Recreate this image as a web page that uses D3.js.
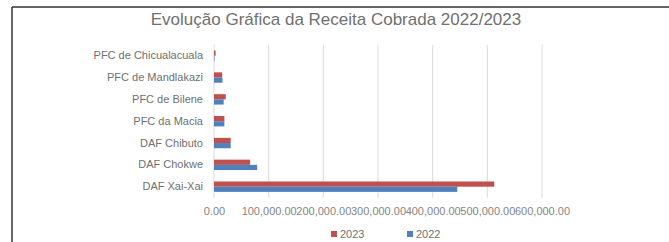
<html>
<head>
<meta charset="utf-8">
<script src="https://cdn.jsdelivr.net/npm/d3@7"></script>
<style>
body, html {
  margin: 0;
  padding: 0;
  background: white;
  overflow: hidden;
}
text {
  font-family: "Liberation Sans", Arial, sans-serif;
}
</style>
</head>
<body>
<div id="chart"></div>
<script type="text/javascript">

// data (top to bottom)
var categories = ["PFC de Chicualacuala", "PFC de Mandlakazi", "PFC de Bilene", "PFC da Macia",
                  "DAF Chibuto", "DAF Chokwe", "DAF Xai-Xai"]
var series = ["2023", "2022"]
var values2023 = [3000, 15000, 21500, 19000, 30500, 66000, 512700]
var values2022 = [1000, 15500, 17700, 19000, 30500, 79000, 445000]
var xTicks = [0, 100000, 200000, 300000, 400000, 500000, 600000]
var title = "Evolução Gráfica da Receita Cobrada 2022/2023"

var colors = {"2023": "#c0504d", "2022": "#4f81bd"}

var W = 669, H = 242

var svg = d3.select("#chart").append("svg")
  .attr("width", W)
  .attr("height", H)

// frame of the chart box (cropped on right and bottom)
svg.append("line").attr("x1", 12).attr("x2", W).attr("y1", 7).attr("y2", 7)
  .style("stroke", "#333").style("stroke-width", 1.5)
svg.append("line").attr("x1", 12).attr("x2", 12).attr("y1", 7).attr("y2", H)
  .style("stroke", "#333").style("stroke-width", 1.5)

svg.append("text")
  .attr("x", 336)
  .attr("y", 25)
  .attr("text-anchor", "middle")
  .style("font-size", "17px")
  .style("fill", "#707070")
  .text(title)

var x = d3.scaleLinear().domain([0, 600000]).range([214, 542])
var y = d3.scaleBand().domain(categories).range([44.8, 197.6])
var barH = 5.2

// gridlines
svg.append("g").selectAll("line")
  .data(xTicks)
  .enter().append("line")
    .attr("x1", function(d){ return x(d) })
    .attr("x2", function(d){ return x(d) })
    .attr("y1", 44.8)
    .attr("y2", 197.6)
    .style("stroke", "#d9d9d9")
    .style("stroke-width", 1)

// x axis labels
var xAxis = svg.append("g")
  .attr("transform", "translate(0,198)")
  .call(d3.axisBottom(x).tickValues(xTicks).tickFormat(d3.format(",.2f")).tickSize(0).tickPadding(9))
xAxis.select(".domain").remove()
xAxis.selectAll("text")
  .style("font-family", "Liberation Sans, Arial, sans-serif")
  .style("font-size", "11px")
  .style("fill", "#858585")

// y axis labels
var yAxis = svg.append("g")
  .attr("transform", "translate(214,0)")
  .call(d3.axisLeft(y).tickSize(0).tickPadding(11))
yAxis.select(".domain").remove()
yAxis.selectAll("text")
  .style("font-family", "Liberation Sans, Arial, sans-serif")
  .style("font-size", "11px")
  .style("fill", "#707070")

var rows = categories.map(function(c, i){
  return {cat: c, "2023": values2023[i], "2022": values2022[i]}
})

series.forEach(function(s, k){
  svg.append("g").selectAll("rect")
    .data(rows)
    .enter().append("rect")
      .attr("x", x(0))
      .attr("y", function(d){ return y(d.cat) + y.bandwidth() / 2 - barH + k * barH })
      .attr("width", function(d){ return x(d[s]) - x(0) })
      .attr("height", barH)
      .style("fill", colors[s])
})

// legend
var legend = svg.append("g")
var lx = [331, 407]
series.forEach(function(s, k){
  legend.append("rect")
    .attr("x", lx[k]).attr("y", 231)
    .attr("width", 6).attr("height", 6)
    .style("fill", colors[s])
  legend.append("text")
    .attr("x", lx[k] + 9).attr("y", 238)
    .style("font-size", "11px")
    .style("fill", "#707070")
    .text(s)
})

</script>
</body>
</html>
